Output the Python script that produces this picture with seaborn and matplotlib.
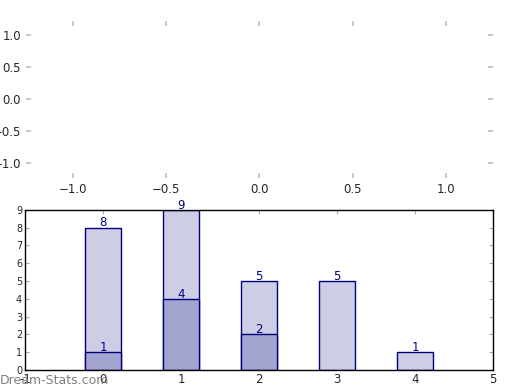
import matplotlib
matplotlib.use('Agg')
import matplotlib.pyplot as plt
import seaborn as sns
import pandas as pd

# ── Data ───────────────────────────────────────────────────
positions = [0, 1, 2, 3, 4]
totals = [8, 9, 5, 5, 1]
subset = [1, 4, 2, 0, 0]

df = pd.DataFrame({'pos': positions, 'total': totals, 'subset': subset})

sns.set_style('white')
plt.rcParams['font.family'] = ['DejaVu Sans']

fig = plt.figure(figsize=(5.2, 3.9), dpi=100)

# ── Top panel: empty axes ──────────────────────────────────
ax_top = fig.add_axes([0.05, 0.5436, 0.898, 0.4026])
ax_top.set_xlim(-1.25, 1.25)
ax_top.set_ylim(-1.23, 1.22)
ax_top.set_xticks([-1.0, -0.5, 0.0, 0.5, 1.0])
ax_top.set_yticks([-1.0, -0.5, 0.0, 0.5, 1.0])
for s in ax_top.spines.values():
    s.set_visible(False)
ax_top.tick_params(axis='both', which='both', direction='in', length=3.5, width=1.2,
                   color='#c0c0c0', labelsize=8.5, top=True, right=True,
                   bottom=True, left=True)

# ── Bottom panel: stacked bars ─────────────────────────────
ax = fig.add_axes([0.048, 0.051, 0.9, 0.411])
sns.barplot(data=df, x='pos', y='total', native_scale=True, width=0.45,
            color='#cdcde5', saturation=1, edgecolor='#000080', linewidth=1, ax=ax)
sns.barplot(data=df[df['subset'] > 0], x='pos', y='subset', native_scale=True, width=0.45,
            color='#a3a3cf', saturation=1, edgecolor='#000080', linewidth=1, ax=ax)

# value labels
for x, t, s in zip(positions, totals, subset):
    ax.text(x, t - 0.1, str(t), ha='center', va='bottom', fontsize=8.5, color='#000080')
    if s > 0:
        ax.text(x, s - 0.1, str(s), ha='center', va='bottom', fontsize=8.5, color='#000080')

ax.set_xlim(-1, 5)
ax.set_ylim(0, 9)
ax.set_xticks(range(-1, 6))
ax.set_xticklabels([str(i) for i in range(-1, 6)])
ax.set_yticks(range(0, 10))
ax.set_xlabel('')
ax.set_ylabel('')
for s in ax.spines.values():
    s.set_visible(True)
    s.set_color('black')
    s.set_linewidth(1)
ax.tick_params(axis='both', direction='in', length=3, color='#aaaaaa',
               top=True, right=True, bottom=True, left=True, pad=2)
ax.tick_params(axis='x', labelsize=8.5)
ax.tick_params(axis='y', labelsize=7)

fig.text(0.0, 0.008, 'Dream-Stats.com', fontsize=9, color='#808080', ha='left', va='bottom')

fig.savefig('out.png', dpi=100)
